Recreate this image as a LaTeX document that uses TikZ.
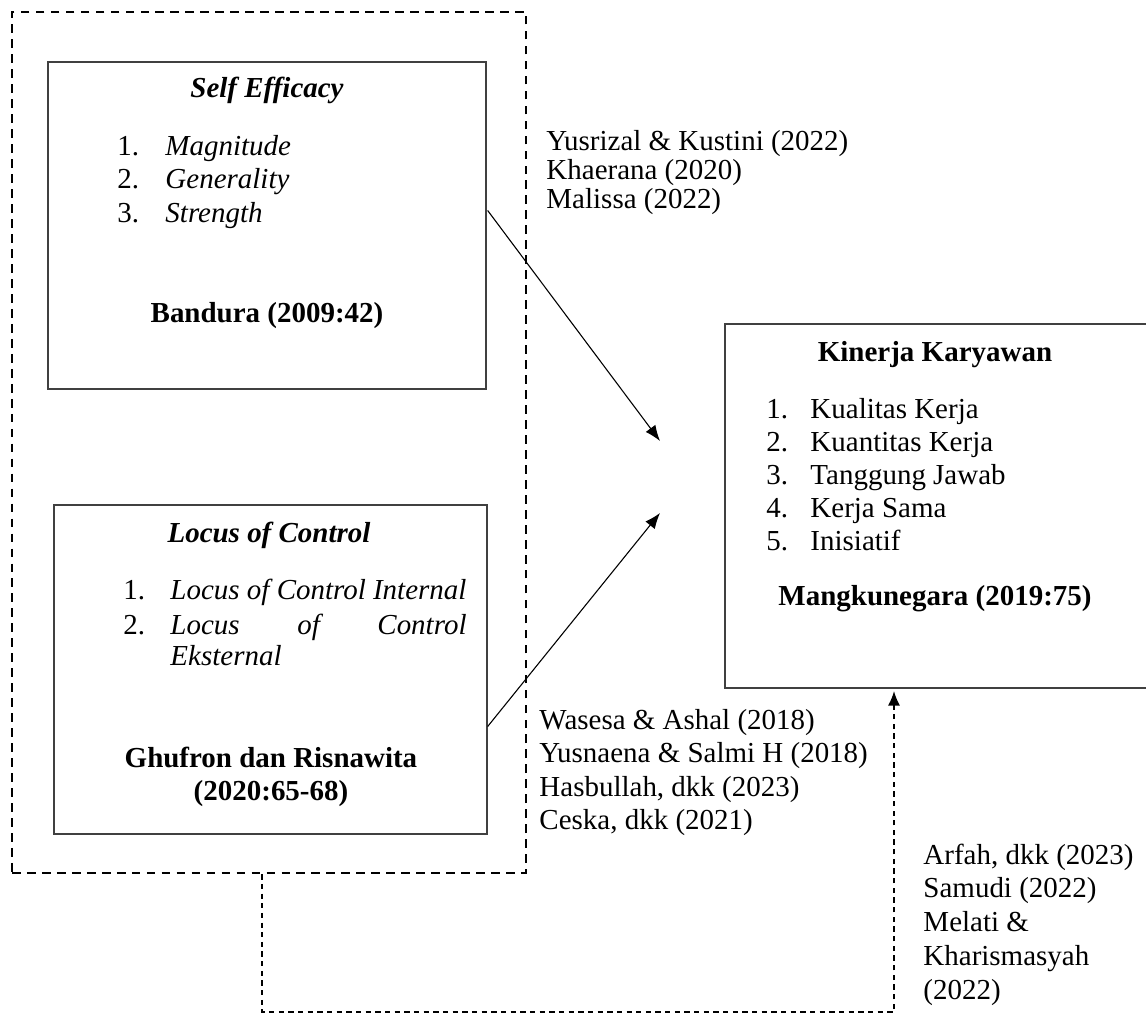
\documentclass[tikz,border=0pt]{standalone}
\usepackage{fontspec}
\setmainfont{Liberation Serif}
\usetikzlibrary{fit,calc,arrows.meta}

\tikzset{
    varbox/.style={draw=black!75, line width=0.55pt, inner sep=0pt},
    groupbox/.style={draw, line width=1pt, dash pattern=on 3.6pt off 2.6pt, inner sep=0pt},
    link/.style={line width=0.45pt, -{Latex[length=6.5pt,width=5pt]}},
    backlink/.style={line width=0.65pt, dash pattern=on 2.2pt off 1.8pt, -{Latex[length=6pt,width=5pt]}},
    txt/.style={font=\fontsize{12}{14}\selectfont, inner sep=0pt, text height=8.5pt, text depth=2.5pt},
    itxt/.style={txt, font=\fontsize{12}{14}\selectfont\itshape},
    btxt/.style={txt, font=\fontsize{12}{14}\selectfont\bfseries},
    head/.style={txt, font=\fontsize{12}{14}\selectfont\bfseries\itshape},
}

\begin{document}
\begin{tikzpicture}[x=0.4141pt, y=-0.4141pt]
        \useasboundingbox (0,0) rectangle (1146,1015);

        \node[groupbox, fit={(12,12) (526,873)}] (grp) {};
        \node[varbox, fit={(48,62) (486,389)}] (se) {};
        \node[varbox, fit={(54,505) (487,834)}] (lc) {};
        \node[varbox, fit={(725,324) (1149,688)}] (kk) {};

        % self efficacy
        \node[head] (setitle) at (267,90) {Self Efficacy};
        \foreach \t [count=\i] in {Magnitude, Generality, Strength} {
            \node[txt, anchor=west] (senum\i) at (117,{148+33.5*(\i-1)}) {\i.};
            \node[itxt, anchor=west] (seitem\i) at (165,{148+33.5*(\i-1)}) {\t};
        }
        \node[btxt] (seref) at (267,315) {Bandura (2009:42)};

        % locus of control
        \node[head] (lctitle) at (269,535) {Locus of Control};
        \node[txt, anchor=west] (lcnum1) at (123,592) {1.};
        \node[itxt, anchor=west] (lcitem1) at (170,592) {Locus of Control Internal};
        \node[txt, anchor=west] (lcnum2) at (123,627) {2.};
        \node[itxt, anchor=west] (lcitem2) at (170,627) {\makebox[122.6pt][s]{Locus of Control}};
        \node[itxt, anchor=west] (lcitem2b) at (170,658) {Eksternal};
        \node[btxt] (lcref1) at (271,760) {Ghufron dan Risnawita};
        \node[btxt] (lcref2) at (271,793) {(2020:65-68)};

        % kinerja karyawan
        \node[btxt] (kktitle) at (935,354) {Kinerja Karyawan};
        \foreach \t [count=\i] in {Kualitas Kerja, Kuantitas Kerja, Tanggung Jawab, Kerja Sama, Inisiatif} {
            \node[txt, anchor=west] (kknum\i) at (766,{411+33*(\i-1)}) {\i.};
            \node[txt, anchor=west] (kkitem\i) at (810,{411+33*(\i-1)}) {\t};
        }
        \node[btxt] (kkref) at (935,598) {Mangkunegara (2019:75)};

        % citations
        \foreach \t [count=\i] in {Yusrizal \& Kustini (2022), Khaerana (2020), Malissa (2022)}
            \node[txt, anchor=west] (cita\i) at (546,{143+29*(\i-1)}) {\t};
        \foreach \t [count=\i] in {Wasesa \& Ashal (2018), Yusnaena \& Salmi H (2018), {Hasbullah, dkk (2023)}, {Ceska, dkk (2021)}}
            \node[txt, anchor=west] (citb\i) at (539,{722+33.5*(\i-1)}) {\t};
        \foreach \t [count=\i] in {{Arfah, dkk (2023)}, Samudi (2022), Melati \&, Kharismasyah, (2022)}
            \node[txt, anchor=west] (citc\i) at (923,{857+33.7*(\i-1)}) {\t};

        \coordinate (kin1) at (660,441);
        \coordinate (kin2) at (660,513);
        \draw[link] ($(se.east)+(1,-15)$) -- (kin1);
        \draw[link] ($(lc.east)+(0,57)$) -- (kin2);

        \coordinate (fbl) at (262,1012);
        \coordinate (fbr) at (894,1012);
        \draw[backlink, shorten >=1pt] (fbl |- grp.south) -- (fbl) -- (fbr) -- (fbr |- kk.south);
    \end{tikzpicture}
\end{document}
